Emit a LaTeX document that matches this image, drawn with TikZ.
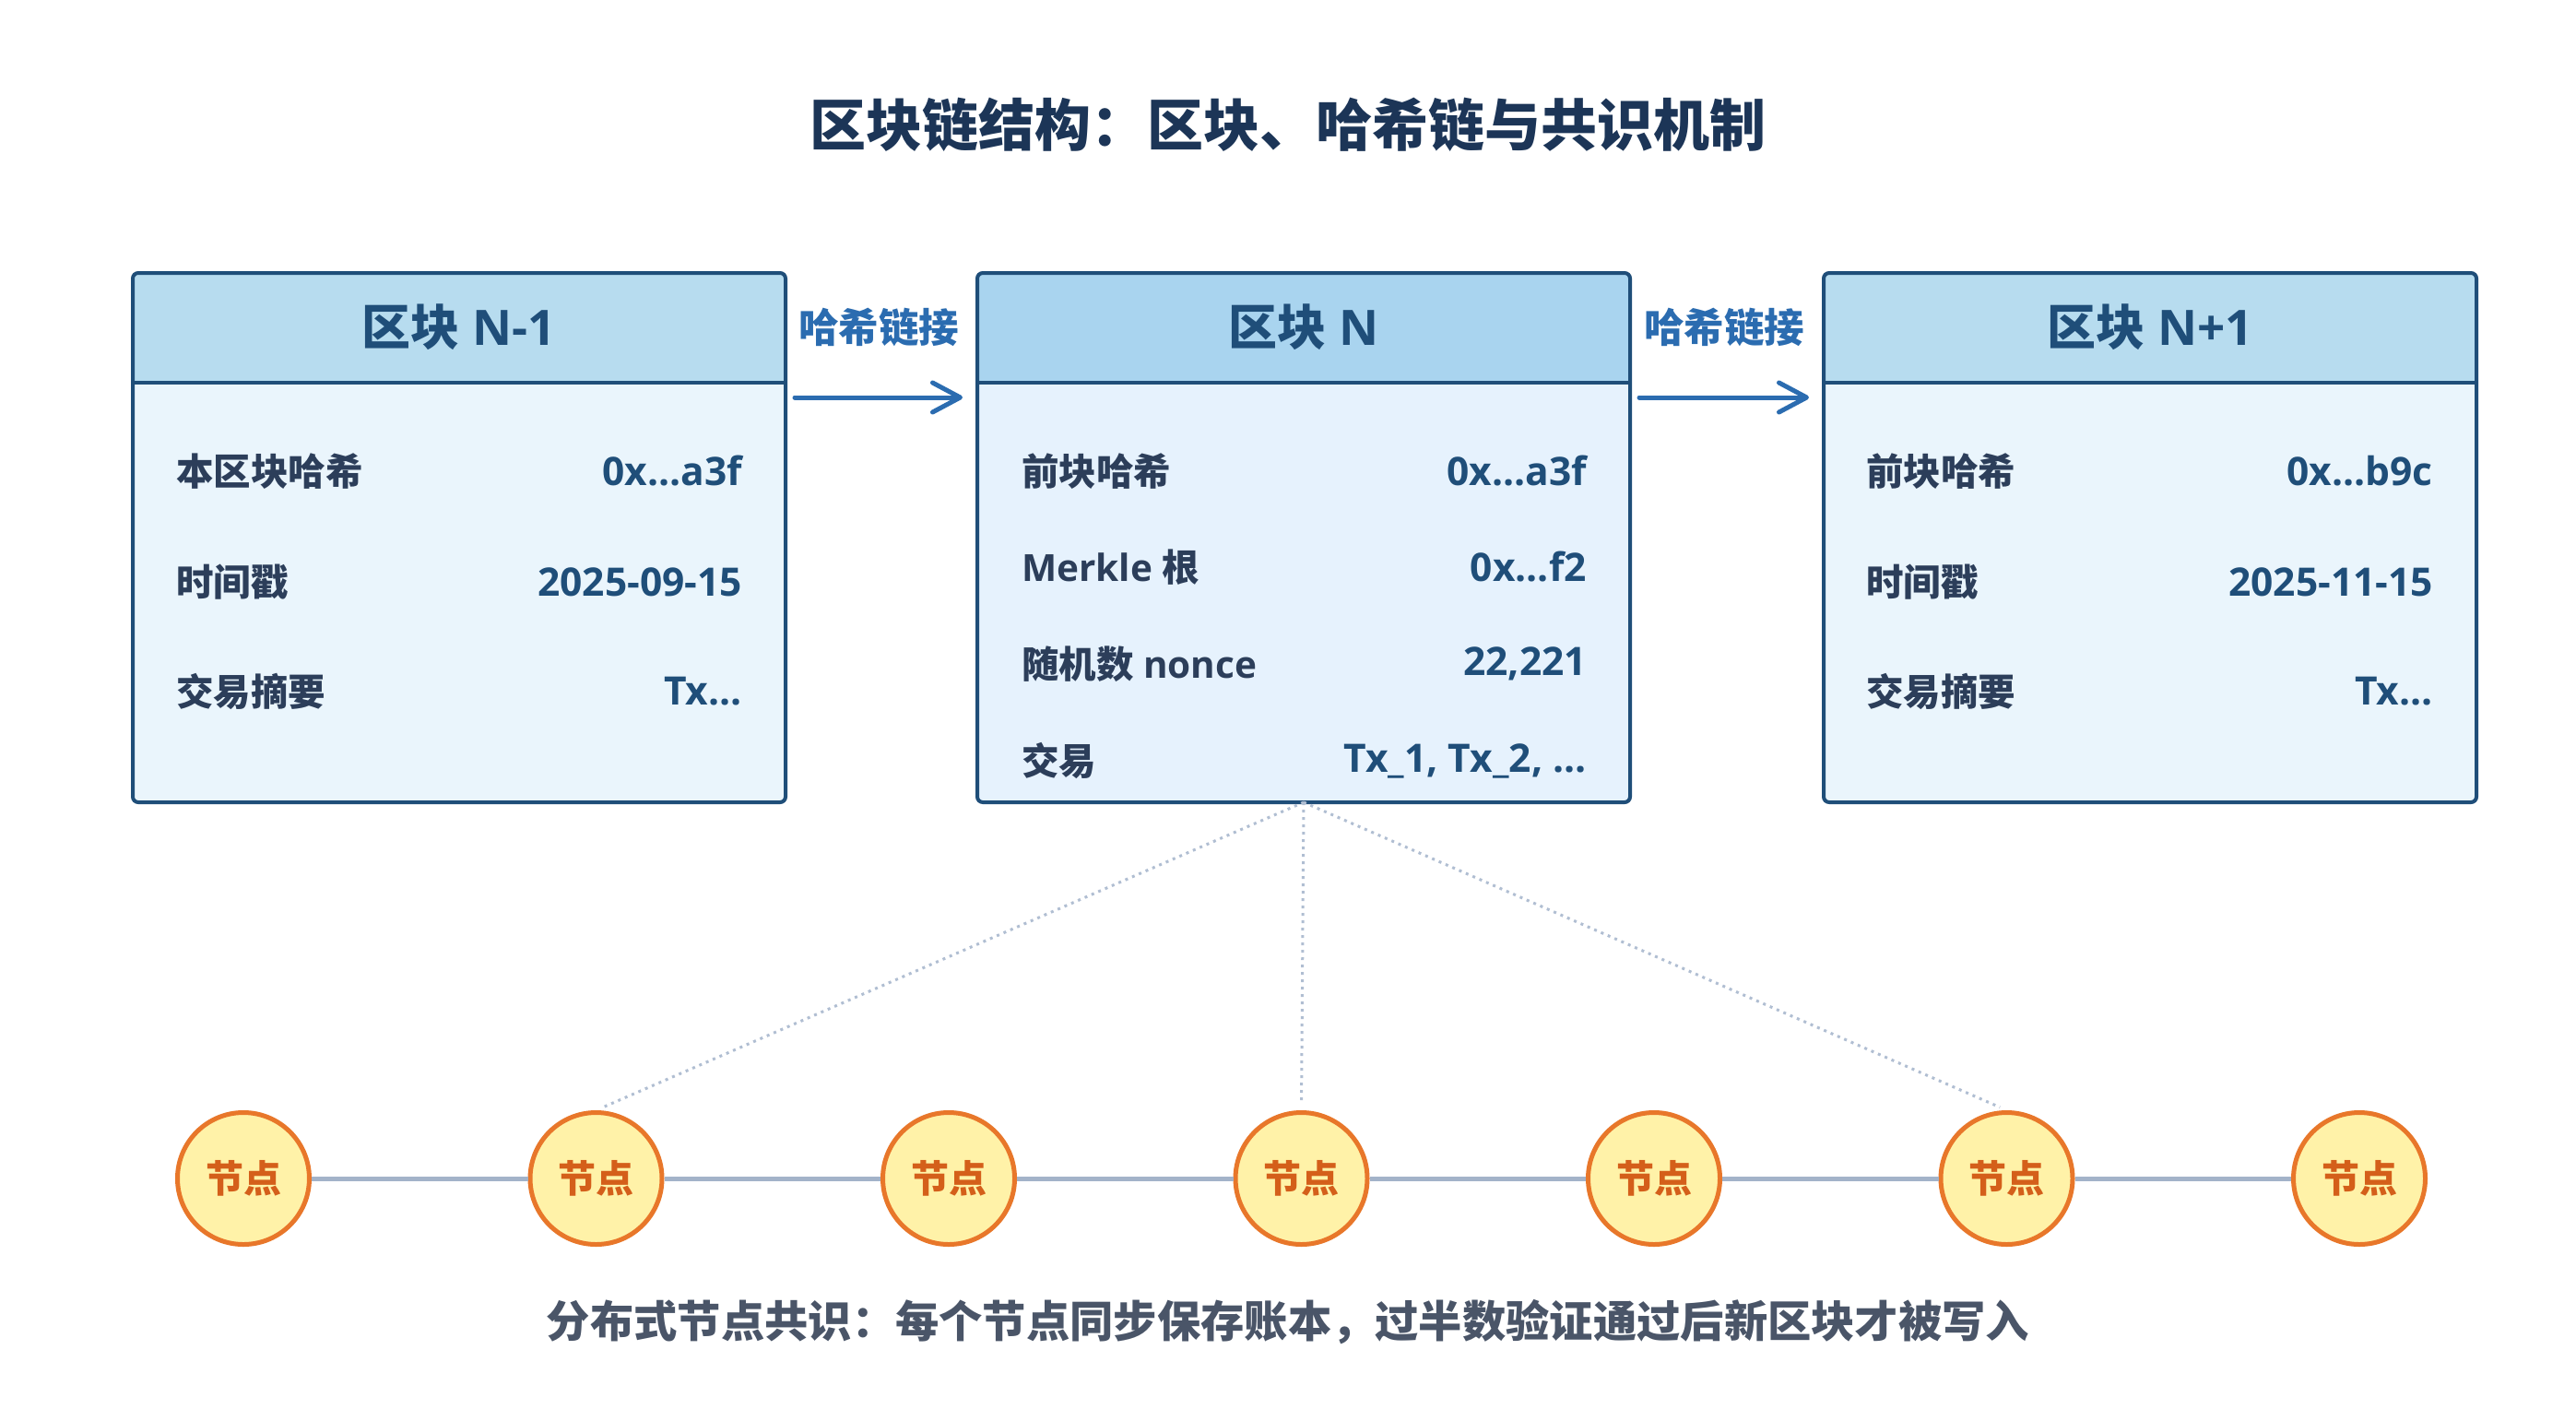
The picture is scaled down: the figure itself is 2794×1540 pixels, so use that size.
\documentclass[tikz,border=0pt]{standalone}
\usepackage{fontspec}
\setmainfont{Open Sans}
\newfontfamily\cjk{Noto Sans CJK SC}
\usetikzlibrary{arrows.meta}
\definecolor{bordercol}{HTML}{1F4E79}
\definecolor{hdrA}{HTML}{B7DCEF}
\definecolor{hdrB}{HTML}{A9D4EF}
\definecolor{bodyA}{HTML}{EAF5FC}
\definecolor{bodyB}{HTML}{E6F2FD}
\definecolor{titlecol}{HTML}{1C3557}
\definecolor{labcol}{HTML}{2C3E5A}
\definecolor{valcol}{HTML}{1F4E79}
\definecolor{linkcol}{HTML}{2B6CB0}
\definecolor{nodefill}{HTML}{FFF2A8}
\definecolor{nodedraw}{HTML}{E8772A}
\definecolor{nodetext}{HTML}{D45F1A}
\definecolor{chaincol}{HTML}{A3B3C9}
\definecolor{dotcol}{HTML}{B0BED2}
\definecolor{footcol}{HTML}{4A5568}
\tikzset{
  x=1pt, y=1pt,
  blockbox/.style={minimum width=708pt, minimum height=574pt, inner sep=0pt, outer sep=0pt},
  blockborder/.style={draw=bordercol, line width=4pt, rounded corners=6pt},
  hdrtext/.style={font=\bfseries\fontsize{53}{60}\selectfont, text=bordercol, inner sep=0pt},
  rowlab/.style={font=\bfseries\fontsize{40.5}{48}\selectfont, text=labcol, anchor=west, inner sep=0pt},
  rowval/.style={font=\bfseries\fontsize{42.5}{48}\selectfont, text=valcol, anchor=east, inner sep=0pt},
  link/.style={draw=linkcol, line width=5pt, line cap=round, -{Straight Barb[length=30pt,width=32pt,line cap=round,line join=round]}},
  linklab/.style={font=\cjk\bfseries\fontsize{43.5}{50}\selectfont, text=linkcol, inner sep=0pt},
  peer/.style={circle, draw=nodedraw, fill=nodefill, line width=5pt, minimum size=143pt, inner sep=0pt,
     font=\cjk\bfseries\fontsize{41}{48}\selectfont, text=nodetext},
  chain/.style={draw=chaincol, line width=5pt},
  dotline/.style={draw=dotcol, line width=3pt, dash pattern=on 3pt off 5pt, shorten >=8pt},
}
\begin{document}
\begin{tikzpicture}
\useasboundingbox[fill=white] (0,0) rectangle (2794,-1540);

% title
\node[font=\cjk\bfseries\fontsize{61}{70}\selectfont, text=titlecol] (title) at (1397,-135) {区块链结构：区块、哈希链与共识机制};

% blocks
\node[blockbox, fill=bodyA] (b1) at (498,-583) {};
\node[blockbox, fill=bodyB] (b2) at (1414,-583) {};
\node[blockbox, fill=bodyA] (b3) at (2332,-583) {};

\fill[hdrA] ([yshift=-119pt]b1.north west) [rounded corners=6pt] -- (b1.north west) -- (b1.north east) [sharp corners] -- ([yshift=-119pt]b1.north east) -- cycle;
\fill[hdrB] ([yshift=-119pt]b2.north west) [rounded corners=6pt] -- (b2.north west) -- (b2.north east) [sharp corners] -- ([yshift=-119pt]b2.north east) -- cycle;
\fill[hdrA] ([yshift=-119pt]b3.north west) [rounded corners=6pt] -- (b3.north west) -- (b3.north east) [sharp corners] -- ([yshift=-119pt]b3.north east) -- cycle;

\foreach \b in {b1,b2,b3}{
  \draw[draw=bordercol, line width=4pt] ([yshift=-119pt]\b.north west) -- ([yshift=-119pt]\b.north east);
  \draw[blockborder] (\b.north west) rectangle (\b.south east);
}

% headers
\node[hdrtext] (h1) at ([yshift=-59pt]b1.north) {{\cjk 区块} N-1};
\node[hdrtext] (h2) at ([yshift=-59pt]b2.north) {{\cjk 区块} N};
\node[hdrtext] (h3) at ([yshift=-59pt]b3.north) {{\cjk 区块} N+1};

% rows block N-1
\node[rowlab] (l11) at (191,-511) {\cjk 本区块哈希};
\node[rowval] (v11) at (805,-511) {0x...a3f};
\node[rowlab] (l12) at (191,-631) {\cjk 时间戳};
\node[rowval] (v12) at (805,-631) {2025-09-15};
\node[rowlab] (l13) at (191,-750) {\cjk 交易摘要};
\node[rowval] (v13) at (805,-750) {Tx...};

% rows block N
\node[rowlab] (l21) at (1108,-511) {\cjk 前块哈希};
\node[rowval] (v21) at (1721,-511) {0x...a3f};
\node[rowlab] (l22) at (1108,-615) {Merkle {\cjk 根}};
\node[rowval] (v22) at (1721,-615) {0x...f2};
\node[rowlab] (l23) at (1108,-720) {{\cjk 随机数} nonce};
\node[rowval] (v23) at (1721,-720) {22,221};
\node[rowlab] (l24) at (1108,-825) {\cjk 交易};
\node[rowval] (v24) at (1721,-825) {Tx\_1, Tx\_2, ...};

% rows block N+1
\node[rowlab] (l31) at (2024,-511) {\cjk 前块哈希};
\node[rowval] (v31) at (2639,-511) {0x...b9c};
\node[rowlab] (l32) at (2024,-631) {\cjk 时间戳};
\node[rowval] (v32) at (2639,-631) {2025-11-15};
\node[rowlab] (l33) at (2024,-750) {\cjk 交易摘要};
\node[rowval] (v33) at (2639,-750) {Tx...};

% hash links
\coordinate (arrowy) at (0,-431);
\draw[link] ([xshift=10pt]b1.east |- arrowy) -- node[linklab, yshift=76pt] (k1) {哈希链接} ([xshift=-16pt]b2.west |- arrowy);
\draw[link] ([xshift=10pt]b2.east |- arrowy) -- node[linklab, yshift=76pt] (k2) {哈希链接} ([xshift=-16pt]b3.west |- arrowy);

% peers
\foreach \i/\x in {1/264,2/646.5,3/1029,4/1411.5,5/1794,6/2176.5,7/2559}{
  \node[peer] (n\i) at (\x,-1278) {节点};
}
\foreach \a/\b in {1/2,2/3,3/4,4/5,5/6,6/7}{
  \draw[chain] (n\a) -- (n\b);
}

% dotted sync lines
\draw[dotline] (b2.south) -- (n2.north);
\draw[dotline] (b2.south) -- (n4.north);
\draw[dotline] (b2.south) -- (n6.north);

% footer
\node[font=\cjk\bfseries\fontsize{47.3}{56}\selectfont, text=footcol] (foot) at (1397,-1434) {分布式节点共识：每个节点同步保存账本，过半数验证通过后新区块才被写入};
\end{tikzpicture}
\end{document}
